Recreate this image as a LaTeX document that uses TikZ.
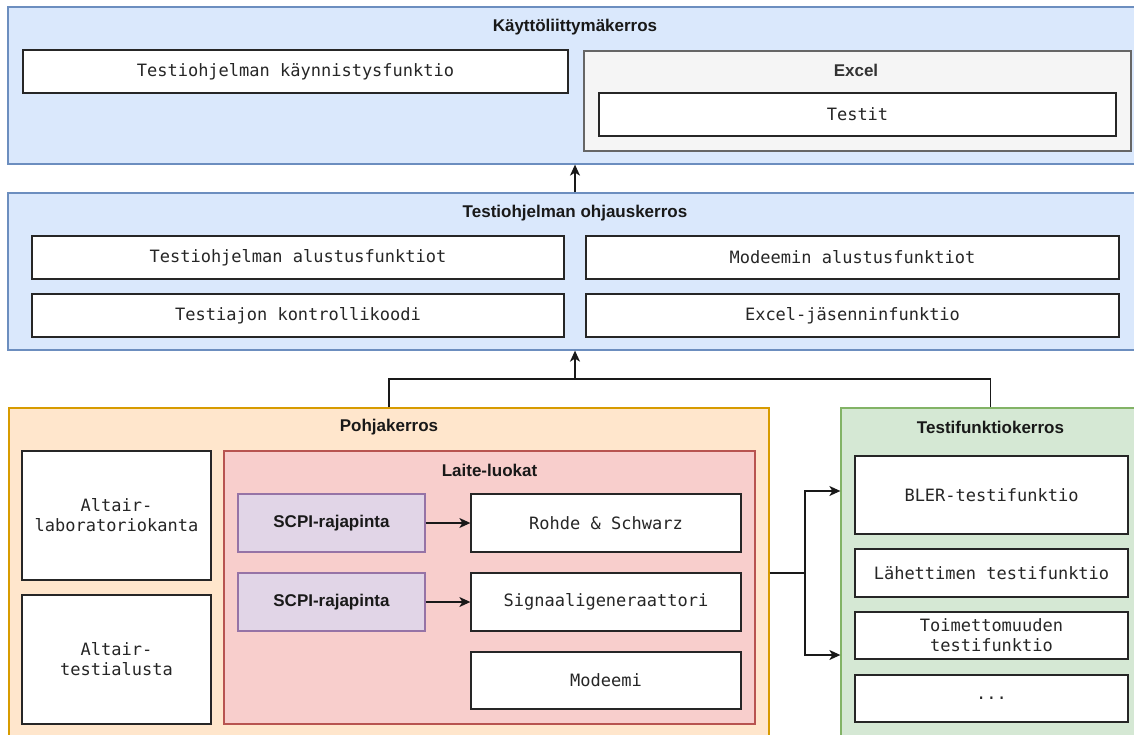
\documentclass[tikz,border=0pt]{standalone}
\usepackage{fontspec}
\setmainfont{Liberation Sans}
\setmonofont{DejaVu Sans Mono}
\usetikzlibrary{arrows.meta}
\definecolor{blueFill}{HTML}{DAE8FC}\definecolor{blueLine}{HTML}{6C8EBF}
\definecolor{greyFill}{HTML}{F5F5F5}\definecolor{greyLine}{HTML}{666666}
\definecolor{orangeFill}{HTML}{FFE6CC}\definecolor{orangeLine}{HTML}{D79B00}
\definecolor{redFill}{HTML}{F8CECC}\definecolor{redLine}{HTML}{B85450}
\definecolor{purpleFill}{HTML}{E1D5E7}\definecolor{purpleLine}{HTML}{9673A6}
\definecolor{greenFill}{HTML}{D5E8D4}\definecolor{greenLine}{HTML}{82B366}
\tikzset{
  panel/.style={draw=#1Line, fill=#1Fill, line width=1.3pt, inner sep=0pt},
  title/.style={font=\fontsize{17}{20}\selectfont\bfseries, text=black!90, inner sep=0pt},
  item/.style={draw=black!85, fill=white, line width=1.3pt, inner sep=2pt,
    font=\fontsize{17}{20}\selectfont\ttfamily, align=center, text=black!85},
  iface/.style={draw=purpleLine, fill=purpleFill, line width=1.3pt, inner sep=0pt,
    font=\fontsize{17}{20}\selectfont\bfseries, text=black!90},
  wire/.style={draw=black!90, line width=1.3pt},
  arr/.style={wire, -{Stealth[length=11pt,width=10pt,inset=3pt]}},
}
\begin{document}
\begin{tikzpicture}[x=1pt,y=-1pt]
\useasboundingbox (0,0) rectangle (1134,735);
\clip (0,0) rectangle (1134,735);

% user-interface layer
\node[panel=blue, minimum width=1134pt, minimum height=157pt] (L1) at (575,85.5) {};
\node[title] (L1t) at (575,27) {Käyttöliittymäkerros};
\node[item, minimum width=545pt, minimum height=43pt] (kay) at (295.5,71.5) {Testiohjelman käynnistysfunktio};
\node[panel=grey, minimum width=547pt, minimum height=100pt] (excel) at (857.5,101) {};
\node[title, text=black!80] (excelt) at (856,70) {Excel};
\node[item, minimum width=517pt, minimum height=43pt] (testit) at (857.5,114.5) {Testit};

% control layer
\node[panel=blue, minimum width=1134pt, minimum height=157pt] (L2) at (575,271.5) {};
\node[title] (L2t) at (575,213) {Testiohjelman ohjauskerros};
\node[item, minimum width=532pt, minimum height=43pt] (c1) at (298,257.5) {Testiohjelman alustusfunktiot};
\node[item, minimum width=533pt, minimum height=43pt] (c2) at (852.5,257.5) {Modeemin alustusfunktiot};
\node[item, minimum width=532pt, minimum height=43pt] (c3) at (298,315.5) {Testiajon kontrollikoodi};
\node[item, minimum width=533pt, minimum height=43pt] (c4) at (852.5,315.5) {Excel-jäsenninfunktio};

% base layer
\node[panel=orange, minimum width=760pt, minimum height=337pt] (pohja) at (389,576.5) {};
\node[title] (pohjat) at (389,427) {Pohjakerros};
\node[item, minimum width=189pt, minimum height=129pt] (alt1) at (116.5,515.5) {Altair-\\laboratoriokanta};
\node[item, minimum width=189pt, minimum height=129pt] (alt2) at (116.5,659.5) {Altair-\\testialusta};
\node[panel=red, minimum width=531pt, minimum height=273pt] (laite) at (489.5,587.5) {};
\node[title] (laitet) at (489.5,470) {Laite-luokat};
\node[iface, minimum width=187pt, minimum height=58pt] (scpi1) at (331.5,523) {SCPI-rajapinta};
\node[item, minimum width=270pt, minimum height=58pt] (rohde) at (606,523) {Rohde \& Schwarz};
\node[iface, minimum width=187pt, minimum height=58pt] (scpi2) at (331.5,602) {SCPI-rajapinta};
\node[item, minimum width=270pt, minimum height=58pt] (signal) at (606,602) {Signaaligeneraattori};
\node[item, minimum width=270pt, minimum height=57pt] (modeemi) at (606,680.5) {Modeemi};

% test function layer
\node[panel=green, minimum width=299pt, minimum height=337pt] (testi) at (990.5,576.5) {};
\node[title] (testit2) at (990.5,427) {Testifunktiokerros};
\node[item, minimum width=273pt, minimum height=78pt] (bler) at (991.5,495) {BLER-testifunktio};
\node[item, minimum width=273pt, minimum height=48pt] (lah) at (991.5,573) {Lähettimen testifunktio};
\node[item, minimum width=273pt, minimum height=47pt] (toim) at (991.5,635.5) {Toimettomuuden\\testifunktio};
\node[item, minimum width=273pt, minimum height=47pt] (dots) at (991.5,698.5) {...};

% connectors
\draw[arr] (L2.north) -- (L1.south);
\coordinate (join) at (575,379);
\draw[wire] (pohja.north) |- (join) -| (testi.north);
\draw[arr] (join) -- (L2.south);
\draw[arr] (scpi1) -- (rohde);
\draw[arr] (scpi2) -- (signal);
\coordinate (fork) at (805,573);
\draw[wire] (fork -| pohja.east) -- (fork);
\draw[arr] (fork) |- (testi.west |- 0,491);
\draw[arr] (fork) |- (testi.west |- 0,655);
\end{tikzpicture}
\end{document}
